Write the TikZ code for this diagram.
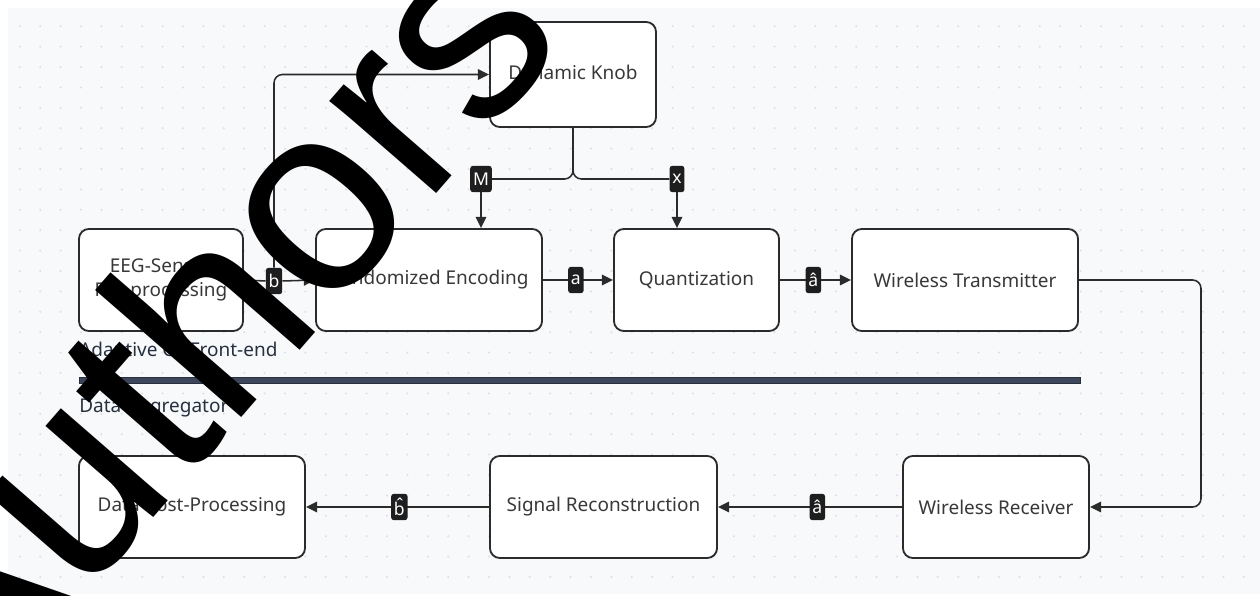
\documentclass[tikz,border=0pt]{standalone}
\usepackage{fontspec}
\setmainfont{Noto Sans}
\newfontfamily\markfont{Liberation Sans}
\usetikzlibrary{arrows.meta}

\definecolor{panel}{HTML}{F8F9FB}
\definecolor{griddot}{HTML}{DCDFE4}
\definecolor{boxtext}{HTML}{383838}
\definecolor{edge}{HTML}{2B2B2B}
\definecolor{tagfill}{HTML}{1E1E1E}
\definecolor{lanetext}{HTML}{27303F}
\definecolor{lanebar}{HTML}{3D4759}

\begin{document}
\begin{tikzpicture}[x=0.025cm, y=-0.025cm,
    box/.style={rectangle, draw=edge, line width=1.3pt, fill=white, rounded corners=7pt, align=center, text=boxtext, font=\fontsize{13.5}{17}\selectfont},
    tag/.style={rectangle, fill=tagfill, rounded corners=2pt, text=white, inner sep=2pt, minimum height=0.66cm, font=\fontsize{12.5}{14}\selectfont},
    lane/.style={anchor=west, text=lanetext, inner sep=0pt, font=\fontsize{13.5}{17}\selectfont},
    arrow/.style={-{Triangle[length=8pt, width=7.5pt]}, line width=1.1pt, draw=edge, rounded corners=6pt},
    wire/.style={line width=1.1pt, draw=edge, rounded corners=6pt}
]
\useasboundingbox (0,0) rectangle (1260,596);
\fill[panel] (8,8) rectangle (1260,594);
\foreach \i in {0,...,60}
  \foreach \j in {0,...,27}
    \fill[griddot] (19.8+\i*20.4, 26.2+\j*20.4) circle (0.8pt);

% front-end
\node[box, minimum width=4.15cm, minimum height=2.625cm] (knob) at (573,74.5) {Dynamic Knob};
\node[box, minimum width=4.1cm, minimum height=2.55cm] (eeg) at (161,280) {EEG-Sensor\\Pre-processing};
\node[box, minimum width=5.65cm, minimum height=2.55cm] (enc) at (429,280) {Randomized Encoding};
\node[box, minimum width=4.125cm, minimum height=2.55cm] (quant) at (696.5,280) {Quantization};
\node[box, minimum width=5.65cm, minimum height=2.55cm] (tx) at (965,280) {Wireless Transmitter};

% aggregator
\node[box, minimum width=5.65cm, minimum height=2.55cm] (post) at (192,507) {Data Post-Processing};
\node[box, minimum width=5.675cm, minimum height=2.55cm] (recon) at (603.5,507) {Signal Reconstruction};
\node[box, minimum width=4.65cm, minimum height=2.55cm] (rx) at (996,507) {Wireless Receiver};

\node[tag] (mtag) at (481,179) {M};
\node[tag] (xtag) at (677,179) {x};
\node[tag] (btag) at (274,281) {b};
\coordinate (turn) at (1201,400);

\draw[wire] (knob.south) |- (mtag.east);
\draw[wire] (knob.south) |- (xtag.west);
\draw[arrow] (mtag.south) -- (mtag |- enc.north);
\draw[arrow] (xtag.south) -- (xtag |- quant.north);
\draw[wire] (eeg.east) -- (btag.west);
\draw[arrow] (btag.east) -- (enc.west);
\draw[arrow] (btag.north) |- (knob.west);
\draw[arrow] (enc) -- node[tag, pos=0.47] (atag) {a} (quant);
\draw[arrow] (quant) -- node[tag, pos=0.47] (ahtag) {â} (tx);
\draw[arrow] (tx.east) -| (turn) |- (rx.east);
\draw[arrow] (rx) -- node[tag, pos=0.46] (ahtag2) {â} (recon);
\draw[arrow] (recon) -- node[tag, pos=0.49] (bhtag) {b̂} (post);

% lanes
\node[lane] (front) at (79,352) {Adaptive CS Front-end};
\filldraw[fill=lanebar, draw=lanetext, line width=0.6pt] (79,377.5) rectangle (1080,383);
\node[lane] (agg) at (79,408) {Data Aggregator};

\node[rotate=49, inner sep=0pt, font=\markfont\fontsize{190}{190}\selectfont] (mark) at (196,324) {Authors};
\end{tikzpicture}
\end{document}
